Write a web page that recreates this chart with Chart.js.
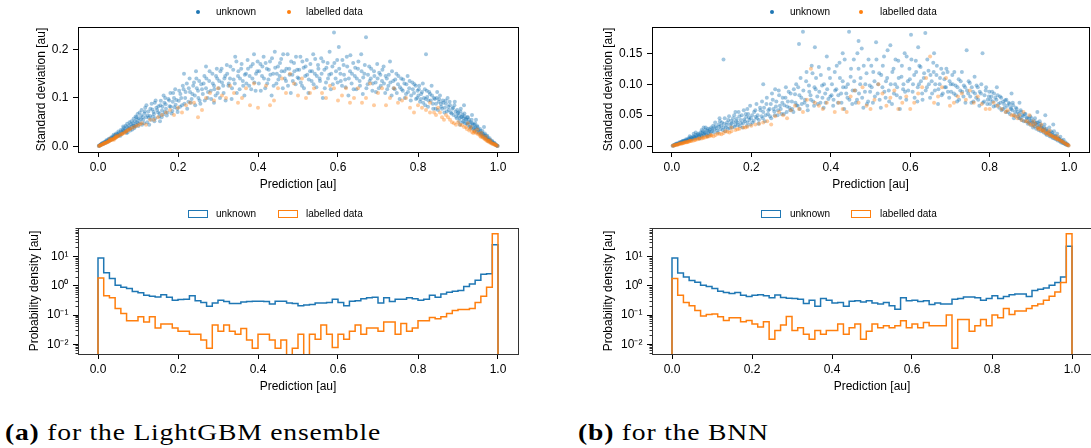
<!DOCTYPE html>
<html>
<head>
<meta charset="utf-8">
<script src="https://cdn.jsdelivr.net/npm/chart.js@4.4.1/dist/chart.umd.min.js"></script>
<style>
  body { margin: 0; width: 1091px; height: 448px; overflow: hidden; position: relative; background: #fff;
         font-family: "Liberation Sans", Arial, sans-serif; color: #000; }
  .panel { position: absolute; }
  .lg { position: absolute; font-size: 10px; line-height: 12px; white-space: nowrap; }
  .dot { position: absolute; width: 4px; height: 4px; border-radius: 50%; }
  .box { position: absolute; width: 18px; height: 6px; border: 1.5px solid; }
  .cap { position: absolute; top: 418px; font-family: "Liberation Serif", "DejaVu Serif", serif; font-size: 24px;
         letter-spacing: 0.7px; line-height: 28px; white-space: nowrap; transform: scaleX(1.15); transform-origin: left top; }
</style>
</head>
<body>

<div class="panel" style="left:0;top:0"><canvas id="lgbmScatter" width="545" height="200"></canvas></div>
<div class="panel" style="left:545px;top:0"><canvas id="bnnScatter" width="548" height="200"></canvas></div>
<div class="panel" style="left:0;top:200px"><canvas id="lgbmHist" width="545" height="200"></canvas></div>
<div class="panel" style="left:545px;top:200px"><canvas id="bnnHist" width="548" height="200"></canvas></div>

<!-- legends -->
<div class="dot" style="left:196px;top:10px;background:#1f77b4"></div>
<div class="lg" style="left:216px;top:6px">unknown</div>
<div class="dot" style="left:287px;top:10px;background:#ff7f0e"></div>
<div class="lg" style="left:306px;top:6px">labelled data</div>

<div class="dot" style="left:770px;top:10px;background:#1f77b4"></div>
<div class="lg" style="left:790px;top:6px">unknown</div>
<div class="dot" style="left:859px;top:10px;background:#ff7f0e"></div>
<div class="lg" style="left:880px;top:6px">labelled data</div>

<div class="box" style="left:188px;top:210px;border-color:#1f77b4"></div>
<div class="lg" style="left:216px;top:208px">unknown</div>
<div class="box" style="left:278px;top:210px;border-color:#ff7f0e"></div>
<div class="lg" style="left:306px;top:208px">labelled data</div>

<div class="box" style="left:761px;top:210px;border-color:#1f77b4"></div>
<div class="lg" style="left:790px;top:208px">unknown</div>
<div class="box" style="left:851px;top:210px;border-color:#ff7f0e"></div>
<div class="lg" style="left:880px;top:208px">labelled data</div>

<div class="cap" style="left:5px"><b>(a)</b> for the LightGBM ensemble</div>
<div class="cap" style="left:578px"><b>(b)</b> for the BNN</div>

<script>
// ---- scatter: [prediction, standard deviation] ----
const lgbmUnknown = [
  [0.002,0.001],[0.004,0.002],[0.006,0.003],[0.008,0.004],[0.01,0.005],[0.012,0.007],[0.014,0.006],[0.016,0.008],
  [0.018,0.01],[0.02,0.009],[0.022,0.012],[0.024,0.011],[0.026,0.014],[0.028,0.013],[0.03,0.016],[0.032,0.015],
  [0.034,0.018],[0.036,0.017],[0.038,0.021],[0.04,0.019],[0.042,0.022],[0.044,0.024],[0.046,0.021],[0.048,0.026],
  [0.05,0.023],[0.052,0.028],[0.055,0.025],[0.058,0.031],[0.06,0.027],[0.062,0.034],[0.065,0.03],[0.068,0.036],
  [0.07,0.032],[0.072,0.04],[0.075,0.035],[0.078,0.042],[0.08,0.037],[0.082,0.046],[0.085,0.04],[0.088,0.048],
  [0.09,0.043],[0.092,0.052],[0.095,0.045],[0.098,0.055],[0.1,0.048],[0.056,0.022],[0.064,0.038],[0.074,0.029],
  [0.086,0.035],[0.096,0.06],[0.091,0.038],
  [0.003,0.002],[0.007,0.004],[0.009,0.006],[0.013,0.005],[0.015,0.009],[0.019,0.008],[0.021,0.013],[0.025,0.01],
  [0.027,0.016],[0.031,0.013],[0.033,0.019],[0.037,0.015],[0.039,0.024],[0.043,0.018],[0.045,0.027],[0.049,0.021],
  [0.051,0.031],[0.054,0.024],[0.057,0.034],[0.061,0.029],[0.063,0.041],[0.066,0.033],[0.069,0.043],[0.071,0.028],
  [0.073,0.047],[0.077,0.038],[0.079,0.05],[0.081,0.033],[0.084,0.052],[0.087,0.044],[0.089,0.057],[0.093,0.041],
  [0.094,0.062],[0.097,0.05],[0.099,0.067],
  [0.102,0.058],[0.105,0.05],[0.108,0.064],[0.11,0.045],[0.113,0.055],[0.116,0.068],[0.12,0.06],[0.123,0.05],
  [0.126,0.072],[0.13,0.063],[0.133,0.055],[0.136,0.076],[0.14,0.067],[0.143,0.058],[0.146,0.08],[0.15,0.07],
  [0.153,0.062],[0.156,0.085],[0.16,0.074],[0.163,0.066],[0.166,0.09],[0.17,0.078],[0.174,0.07],[0.178,0.095],
  [0.182,0.082],[0.186,0.073],[0.19,0.1],[0.194,0.086],[0.198,0.078],[0.118,0.08],[0.142,0.09],[0.168,0.1],
  [0.188,0.11],[0.155,0.052],[0.128,0.045],
  [0.101,0.042],[0.104,0.07],[0.107,0.056],[0.109,0.075],[0.112,0.061],[0.115,0.048],[0.117,0.072],[0.121,0.085],
  [0.124,0.064],[0.127,0.059],[0.131,0.078],[0.134,0.088],[0.137,0.062],[0.139,0.071],[0.141,0.052],[0.144,0.095],
  [0.148,0.075],[0.151,0.083],[0.154,0.068],[0.157,0.094],[0.159,0.06],[0.161,0.082],[0.164,0.105],[0.167,0.071],
  [0.169,0.087],[0.172,0.064],[0.176,0.098],[0.179,0.083],[0.181,0.11],[0.184,0.068],[0.187,0.092],[0.191,0.081],
  [0.193,0.118],[0.196,0.096],[0.199,0.071],
  [0.202,0.094],[0.206,0.108],[0.21,0.085],[0.214,0.118],[0.218,0.1],[0.222,0.13],[0.226,0.092],[0.23,0.112],
  [0.234,0.098],[0.238,0.125],[0.242,0.105],[0.246,0.14],[0.25,0.115],[0.254,0.095],[0.258,0.128],[0.262,0.108],
  [0.266,0.145],[0.27,0.12],[0.274,0.1],[0.278,0.135],[0.282,0.115],[0.286,0.15],[0.29,0.125],[0.294,0.105],
  [0.298,0.14],[0.215,0.15],[0.245,0.155],[0.27,0.165],[0.29,0.09],
  [0.203,0.115],[0.205,0.082],[0.208,0.1],[0.212,0.125],[0.216,0.088],[0.219,0.112],[0.223,0.078],[0.227,0.12],
  [0.229,0.14],[0.232,0.09],[0.236,0.108],[0.24,0.132],[0.243,0.085],[0.247,0.12],[0.251,0.1],[0.253,0.135],
  [0.256,0.088],[0.26,0.118],[0.264,0.13],[0.267,0.095],[0.271,0.14],[0.275,0.112],[0.279,0.155],[0.283,0.098],
  [0.287,0.13],[0.291,0.118],[0.295,0.145],[0.297,0.16],[0.299,0.11],
  [0.302,0.12],[0.306,0.155],[0.31,0.132],[0.314,0.11],[0.318,0.145],[0.322,0.168],[0.326,0.125],[0.33,0.14],
  [0.334,0.098],[0.338,0.158],[0.342,0.13],[0.346,0.175],[0.35,0.145],[0.354,0.118],[0.358,0.16],[0.362,0.135],
  [0.366,0.105],[0.37,0.15],[0.374,0.178],[0.378,0.125],[0.382,0.165],[0.386,0.14],[0.39,0.19],[0.394,0.115],
  [0.398,0.155],
  [0.303,0.135],[0.305,0.1],[0.309,0.16],[0.313,0.125],[0.316,0.14],[0.319,0.095],[0.323,0.15],[0.327,0.13],
  [0.331,0.165],[0.335,0.12],[0.339,0.138],[0.343,0.185],[0.347,0.11],[0.351,0.155],[0.355,0.14],[0.359,0.17],
  [0.363,0.125],[0.367,0.148],[0.371,0.13],[0.375,0.16],[0.379,0.145],[0.383,0.118],[0.387,0.17],[0.391,0.132],
  [0.395,0.15],[0.399,0.175],
  [0.402,0.13],[0.406,0.17],[0.41,0.145],[0.414,0.185],[0.418,0.12],[0.422,0.16],[0.426,0.138],[0.43,0.175],
  [0.434,0.105],[0.438,0.15],[0.442,0.195],[0.446,0.13],[0.45,0.165],[0.454,0.145],[0.458,0.18],[0.462,0.12],
  [0.466,0.155],[0.47,0.135],[0.474,0.19],[0.478,0.16],[0.482,0.11],[0.486,0.148],[0.49,0.172],[0.494,0.128],
  [0.498,0.158],
  [0.403,0.155],[0.407,0.115],[0.411,0.165],[0.415,0.14],[0.419,0.172],[0.423,0.13],[0.427,0.158],[0.431,0.148],
  [0.435,0.182],[0.439,0.125],[0.443,0.162],[0.447,0.15],[0.451,0.138],[0.455,0.172],[0.459,0.155],[0.463,0.19],
  [0.467,0.14],[0.471,0.16],[0.475,0.125],[0.479,0.148],[0.483,0.175],[0.487,0.135],[0.491,0.155],[0.495,0.185],
  [0.499,0.142],
  [0.502,0.14],[0.506,0.185],[0.51,0.125],[0.514,0.162],[0.518,0.145],[0.522,0.178],[0.526,0.11],[0.53,0.155],
  [0.534,0.135],[0.538,0.19],[0.542,0.15],[0.546,0.122],[0.55,0.168],[0.554,0.14],[0.558,0.182],[0.562,0.1],
  [0.566,0.158],[0.57,0.132],[0.574,0.172],[0.578,0.148],[0.582,0.118],[0.586,0.165],[0.59,0.235],[0.594,0.14],
  [0.598,0.178],
  [0.503,0.158],[0.507,0.132],[0.511,0.175],[0.515,0.12],[0.519,0.165],[0.523,0.148],[0.527,0.138],[0.531,0.17],
  [0.535,0.155],[0.539,0.128],[0.543,0.18],[0.547,0.145],[0.551,0.16],[0.555,0.135],[0.559,0.15],[0.563,0.175],
  [0.567,0.12],[0.571,0.162],[0.575,0.14],[0.579,0.195],[0.583,0.15],[0.587,0.128],[0.591,0.172],[0.595,0.155],
  [0.599,0.132],
  [0.602,0.205],[0.606,0.15],[0.61,0.125],[0.614,0.168],[0.618,0.138],[0.622,0.185],[0.626,0.105],[0.63,0.155],
  [0.634,0.13],[0.638,0.172],[0.642,0.145],[0.646,0.118],[0.65,0.16],[0.654,0.135],[0.658,0.19],[0.662,0.108],
  [0.666,0.15],[0.67,0.225],[0.674,0.128],[0.678,0.165],[0.682,0.14],[0.686,0.115],[0.69,0.155],[0.694,0.132],
  [0.698,0.17],
  [0.603,0.16],[0.607,0.135],[0.611,0.178],[0.615,0.148],[0.619,0.122],[0.623,0.165],[0.627,0.14],[0.631,0.188],
  [0.635,0.15],[0.639,0.118],[0.643,0.162],[0.647,0.14],[0.651,0.175],[0.655,0.125],[0.659,0.155],[0.663,0.142],
  [0.667,0.168],[0.671,0.12],[0.675,0.148],[0.679,0.135],[0.683,0.16],[0.687,0.13],[0.691,0.145],[0.695,0.112],
  [0.699,0.14],
  [0.702,0.12],[0.706,0.148],[0.71,0.135],[0.714,0.165],[0.718,0.11],[0.722,0.14],[0.726,0.125],[0.73,0.175],
  [0.734,0.105],[0.738,0.135],[0.742,0.118],[0.746,0.15],[0.75,0.128],[0.754,0.098],[0.758,0.14],[0.762,0.115],
  [0.766,0.13],[0.77,0.108],[0.774,0.145],[0.778,0.12],[0.782,0.095],[0.786,0.132],[0.79,0.11],[0.794,0.125],
  [0.798,0.1],
  [0.703,0.152],[0.707,0.125],[0.711,0.158],[0.715,0.13],[0.719,0.145],[0.723,0.118],[0.727,0.148],[0.731,0.132],
  [0.735,0.155],[0.739,0.12],[0.743,0.138],[0.747,0.11],[0.751,0.145],[0.755,0.122],[0.759,0.118],[0.763,0.138],
  [0.767,0.1],[0.771,0.128],[0.775,0.112],[0.779,0.135],[0.783,0.105],[0.787,0.118],[0.791,0.128],[0.795,0.098],
  [0.799,0.115],
  [0.802,0.118],[0.805,0.092],[0.808,0.108],[0.812,0.13],[0.815,0.1],[0.818,0.085],[0.82,0.19],[0.822,0.115],
  [0.826,0.095],[0.83,0.108],[0.834,0.125],[0.837,0.088],[0.84,0.1],[0.844,0.078],[0.848,0.112],[0.852,0.092],
  [0.855,0.105],[0.858,0.082],[0.862,0.095],[0.866,0.07],[0.87,0.088],[0.874,0.1],[0.877,0.075],[0.88,0.085],
  [0.884,0.068],[0.888,0.08],[0.892,0.092],[0.895,0.062],[0.898,0.075],
  [0.801,0.105],[0.803,0.125],[0.807,0.098],[0.81,0.112],[0.813,0.09],[0.817,0.118],[0.819,0.098],[0.823,0.102],
  [0.825,0.082],[0.828,0.112],[0.832,0.095],[0.835,0.105],[0.838,0.078],[0.842,0.098],[0.845,0.088],[0.847,0.1],
  [0.85,0.075],[0.853,0.098],[0.857,0.088],[0.86,0.078],[0.863,0.09],[0.867,0.08],[0.869,0.095],[0.872,0.072],
  [0.876,0.082],[0.879,0.092],[0.882,0.07],[0.886,0.078],[0.889,0.065],[0.891,0.085],[0.894,0.072],[0.897,0.058],
  [0.899,0.068],
  [0.901,0.07],[0.904,0.058],[0.907,0.078],[0.91,0.062],[0.913,0.052],[0.916,0.068],[0.919,0.056],[0.922,0.048],
  [0.925,0.06],[0.928,0.05],[0.931,0.042],[0.934,0.055],[0.937,0.045],[0.94,0.038],[0.943,0.048],[0.946,0.035],
  [0.949,0.04],[0.952,0.03],[0.955,0.036],[0.958,0.026],[0.961,0.032],[0.964,0.022],[0.967,0.027],[0.97,0.018],
  [0.973,0.022],[0.976,0.014],[0.979,0.017],[0.982,0.01],[0.985,0.012],[0.988,0.007],[0.991,0.008],[0.994,0.004],
  [0.997,0.002],[0.999,0.001],[0.915,0.085],[0.935,0.065],[0.905,0.045],[0.945,0.055],[0.965,0.04],
  [0.902,0.064],[0.903,0.052],[0.906,0.072],[0.908,0.06],[0.911,0.066],[0.912,0.05],[0.914,0.058],[0.917,0.062],
  [0.918,0.048],[0.921,0.055],[0.923,0.06],[0.924,0.045],[0.927,0.055],[0.929,0.04],[0.932,0.05],[0.933,0.038],
  [0.936,0.048],[0.938,0.036],[0.941,0.045],[0.942,0.033],[0.944,0.04],[0.947,0.03],[0.948,0.042],[0.951,0.035],
  [0.953,0.028],[0.956,0.032],[0.957,0.024],[0.96,0.028],[0.962,0.02],[0.963,0.026],[0.966,0.022],[0.968,0.017],
  [0.969,0.023],[0.972,0.016],[0.974,0.019],[0.975,0.012],[0.978,0.014],[0.98,0.011],[0.981,0.013],[0.984,0.008],
  [0.986,0.01],[0.989,0.006],[0.992,0.005],[0.995,0.003],[0.998,0.0015]
];
const lgbmLabelled = [
  [0.002,0.001],[0.005,0.002],[0.008,0.003],[0.011,0.004],[0.014,0.006],[0.017,0.007],[0.02,0.008],[0.023,0.009],
  [0.026,0.011],[0.029,0.012],[0.032,0.013],[0.035,0.014],[0.038,0.016],[0.041,0.017],[0.044,0.018],[0.047,0.02],
  [0.05,0.021],[0.055,0.024],[0.06,0.026],[0.065,0.028],[0.07,0.031],[0.03,0.016],[0.04,0.014],[0.045,0.022],
  [0.075,0.034],[0.08,0.036],[0.09,0.04],[0.1,0.044],[0.11,0.048],[0.12,0.045],[0.13,0.055],[0.15,0.06],
  [0.17,0.07],[0.19,0.065],[0.2,0.08],[0.22,0.085],[0.24,0.09],[0.25,0.06],[0.27,0.1],[0.29,0.095],
  [0.3,0.12],[0.31,0.105],[0.33,0.125],[0.34,0.11],[0.36,0.1],[0.38,0.085],[0.4,0.08],[0.42,0.125],
  [0.44,0.095],[0.46,0.14],[0.48,0.15],[0.5,0.105],[0.52,0.1],[0.54,0.12],[0.56,0.11],[0.6,0.095],
  [0.62,0.12],[0.64,0.1],[0.66,0.09],[0.68,0.13],[0.7,0.11],[0.72,0.085],[0.74,0.12],[0.76,0.095],
  [0.78,0.08],[0.8,0.085],[0.82,0.075],[0.84,0.07],[0.86,0.06],[0.88,0.055],[0.89,0.048],[0.9,0.05],
  [0.91,0.044],[0.92,0.04],[0.93,0.036],[0.935,0.03],[0.94,0.032],[0.945,0.028],[0.95,0.025],[0.955,0.022],
  [0.96,0.02],[0.963,0.018],[0.966,0.016],[0.969,0.014],[0.972,0.012],[0.975,0.011],[0.978,0.009],[0.981,0.008],
  [0.984,0.006],[0.987,0.005],[0.99,0.004],[0.993,0.003],[0.996,0.002],[0.999,0.001],[0.958,0.028],[0.948,0.035],
  [0.97,0.02],[0.98,0.013],[0.925,0.048],[0.87,0.065],[0.85,0.08],[0.83,0.09],[0.58,0.125],[0.47,0.11],
  [0.35,0.09],[0.26,0.075],
  [0.004,0.0015],[0.007,0.003],[0.012,0.005],[0.016,0.006],[0.019,0.008],[0.024,0.01],[0.028,0.011],[0.033,0.014],
  [0.037,0.015],[0.042,0.018],[0.046,0.019],[0.052,0.022],[0.058,0.025],[0.062,0.027],[0.068,0.03],[0.072,0.032],
  [0.078,0.035],[0.085,0.038],[0.095,0.042],[0.105,0.046],
  [0.14,0.055],[0.16,0.065],[0.18,0.075],[0.21,0.07],[0.23,0.09],[0.28,0.11],[0.32,0.1],[0.37,0.12],[0.39,0.13],
  [0.43,0.085],[0.45,0.12],[0.49,0.13],[0.51,0.14],[0.53,0.11],[0.57,0.1],[0.59,0.12],[0.61,0.105],[0.63,0.09],
  [0.65,0.12],[0.67,0.1],[0.69,0.085],[0.71,0.12],[0.73,0.1],[0.75,0.09],[0.77,0.1],[0.79,0.07],[0.81,0.08],
  [0.83,0.07],[0.845,0.065],[0.855,0.07],[0.865,0.055],[0.875,0.06],[0.885,0.05],[0.895,0.045],[0.905,0.045],
  [0.915,0.04],[0.922,0.036],[0.928,0.033],[0.932,0.04],[0.938,0.028],[0.942,0.03],[0.952,0.027],[0.957,0.02],
  [0.962,0.022],[0.968,0.016],[0.973,0.014],[0.977,0.012],[0.983,0.009],[0.988,0.006],[0.992,0.005],[0.995,0.003]
];
const bnnUnknown = [
  [0.002,0.0005],[0.005,0.001],[0.008,0.002],[0.011,0.003],[0.014,0.003],[0.017,0.004],[0.02,0.005],[0.023,0.006],
  [0.026,0.006],[0.029,0.008],[0.032,0.007],[0.035,0.009],[0.038,0.01],[0.041,0.009],[0.044,0.012],[0.047,0.011],
  [0.05,0.013],[0.053,0.012],[0.056,0.015],[0.059,0.013],[0.062,0.016],[0.065,0.018],[0.068,0.015],[0.071,0.019],
  [0.074,0.017],[0.077,0.021],[0.08,0.018],[0.083,0.022],[0.086,0.02],[0.089,0.025],[0.092,0.021],[0.095,0.027],
  [0.098,0.023],[0.06,0.022],[0.075,0.026],[0.085,0.03],[0.07,0.012],[0.09,0.016],
  [0.003,0.001],[0.007,0.002],[0.009,0.003],[0.012,0.004],[0.015,0.004],[0.019,0.006],[0.021,0.005],[0.024,0.007],
  [0.027,0.008],[0.031,0.009],[0.033,0.008],[0.036,0.011],[0.039,0.009],[0.042,0.012],[0.045,0.01],[0.048,0.014],
  [0.051,0.011],[0.054,0.016],[0.057,0.014],[0.061,0.018],[0.063,0.013],[0.066,0.02],[0.069,0.017],[0.072,0.022],
  [0.076,0.016],[0.078,0.024],[0.081,0.02],[0.084,0.026],[0.087,0.018],[0.091,0.028],[0.093,0.024],[0.096,0.019],
  [0.099,0.03],[0.045,0.016],[0.055,0.02],[0.08,0.03],
  [0.102,0.028],[0.106,0.022],[0.11,0.032],[0.114,0.025],[0.118,0.035],[0.122,0.027],[0.126,0.038],[0.13,0.03],
  [0.134,0.024],[0.138,0.034],[0.142,0.042],[0.146,0.029],[0.15,0.036],[0.154,0.045],[0.158,0.031],[0.162,0.04],
  [0.166,0.034],[0.17,0.048],[0.174,0.037],[0.178,0.03],[0.182,0.043],[0.186,0.052],[0.19,0.038],[0.194,0.046],
  [0.198,0.035],[0.13,0.14],[0.12,0.045],[0.16,0.055],[0.19,0.06],
  [0.101,0.024],[0.104,0.033],[0.107,0.027],[0.109,0.038],[0.112,0.029],[0.116,0.022],[0.119,0.031],[0.121,0.04],
  [0.124,0.033],[0.128,0.026],[0.131,0.036],[0.133,0.045],[0.136,0.03],[0.139,0.038],[0.141,0.028],[0.144,0.048],
  [0.147,0.035],[0.149,0.041],[0.152,0.03],[0.155,0.039],[0.157,0.05],[0.16,0.034],[0.163,0.044],[0.165,0.038],
  [0.168,0.055],[0.171,0.032],[0.173,0.042],[0.176,0.05],[0.179,0.037],[0.181,0.058],[0.184,0.04],[0.187,0.047],
  [0.189,0.033],[0.192,0.052],[0.195,0.042],[0.197,0.065],[0.199,0.045],
  [0.202,0.05],[0.206,0.041],[0.21,0.058],[0.214,0.045],[0.218,0.036],[0.222,0.062],[0.226,0.048],[0.23,0.055],
  [0.234,0.04],[0.238,0.068],[0.242,0.052],[0.246,0.06],[0.25,0.045],[0.254,0.075],[0.258,0.056],[0.262,0.064],
  [0.266,0.05],[0.27,0.082],[0.274,0.06],[0.278,0.07],[0.282,0.052],[0.286,0.078],[0.29,0.064],[0.294,0.088],
  [0.298,0.058],[0.23,0.1],[0.26,0.092],
  [0.203,0.038],[0.207,0.055],[0.211,0.047],[0.213,0.068],[0.216,0.05],[0.219,0.042],[0.223,0.058],[0.227,0.072],
  [0.229,0.045],[0.232,0.062],[0.236,0.05],[0.239,0.078],[0.243,0.058],[0.247,0.048],[0.249,0.068],[0.252,0.085],
  [0.256,0.06],[0.259,0.05],[0.263,0.072],[0.267,0.058],[0.269,0.09],[0.272,0.065],[0.276,0.052],[0.279,0.078],
  [0.283,0.066],[0.287,0.095],[0.289,0.055],[0.292,0.072],[0.296,0.062],[0.299,0.085],
  [0.302,0.072],[0.306,0.055],[0.31,0.084],[0.314,0.066],[0.318,0.095],[0.322,0.06],[0.326,0.078],[0.33,0.185],
  [0.334,0.07],[0.338,0.105],[0.342,0.058],[0.346,0.088],[0.35,0.075],[0.354,0.118],[0.358,0.065],[0.362,0.092],
  [0.366,0.08],[0.37,0.128],[0.374,0.07],[0.378,0.098],[0.382,0.062],[0.386,0.085],[0.39,0.145],[0.394,0.076],
  [0.398,0.11],[0.32,0.165],[0.36,0.16],
  [0.303,0.06],[0.307,0.092],[0.311,0.07],[0.313,0.1],[0.317,0.065],[0.321,0.082],[0.324,0.11],[0.327,0.068],
  [0.331,0.09],[0.335,0.075],[0.339,0.12],[0.341,0.065],[0.345,0.098],[0.349,0.082],[0.352,0.13],[0.356,0.072],
  [0.359,0.095],[0.363,0.11],[0.367,0.068],[0.371,0.088],[0.375,0.115],[0.379,0.078],[0.383,0.1],[0.387,0.07],
  [0.391,0.092],[0.395,0.125],[0.399,0.08],
  [0.402,0.082],[0.406,0.065],[0.41,0.12],[0.414,0.092],[0.418,0.07],[0.422,0.135],[0.426,0.085],[0.43,0.105],
  [0.434,0.06],[0.438,0.095],[0.442,0.078],[0.446,0.185],[0.45,0.112],[0.454,0.068],[0.458,0.14],[0.462,0.09],
  [0.466,0.075],[0.47,0.125],[0.474,0.1],[0.478,0.158],[0.482,0.062],[0.486,0.088],[0.49,0.118],[0.494,0.072],
  [0.498,0.098],[0.47,0.17],[0.43,0.15],
  [0.403,0.1],[0.407,0.075],[0.411,0.09],[0.415,0.13],[0.419,0.082],[0.423,0.11],[0.427,0.07],[0.431,0.095],
  [0.435,0.14],[0.439,0.085],[0.443,0.1],[0.447,0.075],[0.451,0.125],[0.455,0.09],[0.459,0.105],[0.463,0.07],
  [0.467,0.15],[0.471,0.085],[0.475,0.11],[0.479,0.078],[0.483,0.13],[0.487,0.1],[0.491,0.068],[0.495,0.14],
  [0.499,0.088],
  [0.502,0.13],[0.506,0.07],[0.51,0.105],[0.514,0.168],[0.518,0.085],[0.522,0.118],[0.526,0.062],[0.53,0.095],
  [0.534,0.145],[0.538,0.078],[0.542,0.11],[0.546,0.09],[0.55,0.163],[0.554,0.068],[0.558,0.125],[0.562,0.1],
  [0.566,0.082],[0.57,0.138],[0.574,0.06],[0.578,0.112],[0.582,0.092],[0.586,0.15],[0.59,0.075],[0.594,0.105],
  [0.598,0.125],
  [0.503,0.095],[0.507,0.12],[0.511,0.08],[0.515,0.14],[0.519,0.1],[0.523,0.075],[0.527,0.115],[0.531,0.13],
  [0.535,0.088],[0.539,0.105],[0.543,0.155],[0.547,0.072],[0.551,0.1],[0.555,0.12],[0.559,0.085],[0.563,0.14],
  [0.567,0.095],[0.571,0.11],[0.575,0.078],[0.579,0.13],[0.583,0.1],[0.587,0.088],[0.591,0.145],[0.595,0.09],
  [0.599,0.108],
  [0.602,0.18],[0.606,0.088],[0.61,0.115],[0.614,0.138],[0.618,0.072],[0.622,0.1],[0.626,0.128],[0.63,0.085],
  [0.634,0.11],[0.638,0.183],[0.642,0.095],[0.646,0.122],[0.65,0.078],[0.654,0.105],[0.658,0.135],[0.662,0.09],
  [0.666,0.115],[0.67,0.068],[0.674,0.1],[0.678,0.125],[0.682,0.085],[0.686,0.108],[0.69,0.095],[0.694,0.12],
  [0.698,0.078],[0.66,0.15],[0.62,0.16],
  [0.603,0.14],[0.607,0.1],[0.611,0.078],[0.615,0.12],[0.619,0.095],[0.623,0.13],[0.627,0.105],[0.631,0.075],
  [0.635,0.118],[0.639,0.09],[0.643,0.14],[0.647,0.1],[0.651,0.115],[0.655,0.085],[0.659,0.12],[0.663,0.1],
  [0.667,0.13],[0.671,0.092],[0.675,0.11],[0.679,0.082],[0.683,0.118],[0.687,0.095],[0.691,0.125],[0.695,0.088],
  [0.699,0.105],
  [0.702,0.1],[0.706,0.115],[0.71,0.085],[0.714,0.098],[0.718,0.072],[0.722,0.108],[0.726,0.09],[0.73,0.12],
  [0.734,0.08],[0.738,0.095],[0.742,0.155],[0.746,0.085],[0.75,0.102],[0.754,0.07],[0.758,0.088],[0.762,0.112],
  [0.766,0.078],[0.77,0.095],[0.774,0.065],[0.778,0.085],[0.782,0.15],[0.786,0.072],[0.79,0.09],[0.794,0.068],
  [0.798,0.08],
  [0.703,0.088],[0.707,0.1],[0.711,0.12],[0.715,0.082],[0.719,0.095],[0.723,0.075],[0.727,0.105],[0.731,0.088],
  [0.735,0.098],[0.739,0.07],[0.743,0.09],[0.747,0.105],[0.751,0.08],[0.755,0.095],[0.759,0.072],[0.763,0.085],
  [0.767,0.098],[0.771,0.075],[0.775,0.088],[0.779,0.1],[0.783,0.07],[0.787,0.082],[0.791,0.095],[0.795,0.075],
  [0.799,0.088],
  [0.802,0.075],[0.806,0.088],[0.81,0.064],[0.814,0.078],[0.818,0.095],[0.822,0.068],[0.826,0.08],[0.83,0.058],
  [0.834,0.072],[0.838,0.062],[0.842,0.075],[0.846,0.055],[0.85,0.068],[0.854,0.06],[0.858,0.07],[0.862,0.05],
  [0.866,0.062],[0.87,0.055],[0.874,0.045],[0.878,0.058],[0.882,0.05],[0.886,0.04],[0.89,0.052],[0.894,0.045],
  [0.898,0.038],[0.855,0.085],[0.875,0.07],
  [0.801,0.068],[0.804,0.08],[0.808,0.072],[0.811,0.085],[0.815,0.065],[0.817,0.075],[0.82,0.082],[0.824,0.062],
  [0.827,0.07],[0.829,0.078],[0.833,0.06],[0.836,0.068],[0.839,0.074],[0.841,0.055],[0.844,0.065],[0.848,0.07],
  [0.851,0.052],[0.853,0.062],[0.857,0.058],[0.859,0.066],[0.861,0.045],[0.864,0.055],[0.868,0.06],[0.871,0.048],
  [0.873,0.052],[0.877,0.045],[0.879,0.055],[0.881,0.042],[0.884,0.048],[0.888,0.052],[0.891,0.04],[0.893,0.046],
  [0.896,0.036],[0.899,0.044],
  [0.902,0.048],[0.906,0.04],[0.91,0.035],[0.914,0.045],[0.918,0.038],[0.922,0.03],[0.926,0.04],[0.93,0.033],
  [0.934,0.026],[0.938,0.035],[0.942,0.028],[0.946,0.022],[0.95,0.03],[0.954,0.024],[0.958,0.018],[0.962,0.024],
  [0.966,0.016],[0.97,0.02],[0.974,0.012],[0.978,0.015],[0.982,0.009],[0.986,0.01],[0.99,0.006],[0.994,0.004],
  [0.998,0.001],[0.94,0.05],[0.92,0.055],[0.96,0.035],
  [0.901,0.04],[0.903,0.034],[0.905,0.045],[0.908,0.038],[0.909,0.03],[0.912,0.04],[0.913,0.032],[0.916,0.036],
  [0.917,0.028],[0.919,0.034],[0.921,0.038],[0.923,0.026],[0.925,0.032],[0.927,0.036],[0.929,0.024],[0.931,0.03],
  [0.933,0.028],[0.936,0.022],[0.937,0.03],[0.939,0.026],[0.941,0.02],[0.943,0.025],[0.944,0.018],[0.947,0.024],
  [0.949,0.02],[0.951,0.016],[0.953,0.02],[0.955,0.015],[0.957,0.022],[0.959,0.013],[0.961,0.018],[0.963,0.012],
  [0.964,0.016],[0.967,0.011],[0.969,0.014],[0.971,0.009],[0.973,0.012],[0.976,0.008],[0.977,0.01],[0.979,0.006],
  [0.981,0.008],[0.983,0.005],[0.985,0.006],[0.987,0.004],[0.989,0.004],[0.991,0.003],[0.993,0.002],[0.996,0.002]
];
const bnnLabelled = [
  [0.002,0.0005],[0.006,0.001],[0.01,0.002],[0.014,0.002],[0.018,0.003],[0.022,0.004],[0.026,0.004],[0.03,0.005],
  [0.034,0.006],[0.038,0.006],[0.042,0.007],[0.046,0.008],[0.05,0.008],[0.055,0.009],[0.06,0.01],[0.065,0.011],
  [0.07,0.012],[0.075,0.012],[0.08,0.013],[0.085,0.014],[0.09,0.015],[0.095,0.016],[0.1,0.017],[0.11,0.018],
  [0.12,0.02],[0.13,0.021],[0.14,0.023],[0.15,0.024],[0.16,0.026],[0.17,0.028],[0.18,0.03],[0.19,0.031],
  [0.2,0.033],[0.22,0.036],[0.24,0.04],[0.26,0.048],[0.28,0.05],[0.3,0.058],[0.32,0.06],[0.34,0.075],
  [0.35,0.125],[0.37,0.065],[0.39,0.07],[0.41,0.055],[0.43,0.06],[0.45,0.08],[0.47,0.07],[0.5,0.06],
  [0.52,0.1],[0.54,0.065],[0.56,0.09],[0.58,0.07],[0.6,0.06],[0.62,0.085],[0.64,0.11],[0.65,0.145],
  [0.66,0.07],[0.68,0.095],[0.7,0.065],[0.72,0.08],[0.74,0.075],[0.76,0.07],[0.78,0.068],[0.8,0.06],
  [0.82,0.065],[0.84,0.055],[0.86,0.05],[0.87,0.045],[0.88,0.042],[0.89,0.04],[0.9,0.036],[0.91,0.033],
  [0.92,0.03],[0.925,0.027],[0.93,0.026],[0.935,0.024],[0.94,0.022],[0.945,0.02],[0.95,0.018],[0.955,0.017],
  [0.96,0.015],[0.965,0.013],[0.97,0.011],[0.975,0.01],[0.98,0.008],[0.985,0.006],[0.99,0.004],[0.995,0.002],
  [0.999,0.001],[0.93,0.035],[0.95,0.025],[0.97,0.016],[0.91,0.04],[0.9,0.05],[0.885,0.055],[0.75,0.09],
  [0.55,0.078],[0.48,0.095],[0.25,0.035],[0.15,0.03],
  [0.004,0.001],[0.008,0.0015],[0.012,0.002],[0.016,0.003],[0.02,0.004],[0.024,0.004],[0.028,0.005],[0.032,0.006],
  [0.036,0.006],[0.04,0.007],[0.044,0.008],[0.048,0.009],[0.058,0.01],[0.068,0.012],[0.078,0.014],[0.088,0.016],
  [0.098,0.018],[0.105,0.016],[0.115,0.02],[0.125,0.019],[0.135,0.024],[0.145,0.022],[0.165,0.027],[0.185,0.03],
  [0.21,0.035],[0.23,0.038],[0.27,0.055],[0.29,0.045],[0.31,0.065],[0.33,0.055],[0.36,0.07],[0.38,0.06],
  [0.42,0.07],[0.44,0.055],[0.46,0.09],[0.49,0.065],[0.51,0.075],[0.53,0.085],[0.57,0.06],[0.59,0.08],
  [0.61,0.07],[0.63,0.095],[0.67,0.08],[0.69,0.11],[0.71,0.07],[0.73,0.085],[0.77,0.08],[0.79,0.06],
  [0.81,0.07],[0.83,0.06],[0.845,0.058],[0.855,0.05],[0.865,0.048],[0.875,0.05],[0.895,0.04],[0.905,0.035],
  [0.915,0.036],[0.922,0.028],[0.928,0.03],[0.933,0.025],[0.938,0.027],[0.943,0.021],[0.948,0.022],[0.953,0.018],
  [0.958,0.016],[0.963,0.014],[0.968,0.012],[0.973,0.011],[0.978,0.009],[0.983,0.007],[0.988,0.005],[0.993,0.003],
  [0.997,0.0015]
];

// ---- histograms: probability density per bin, 70 bins over [0, 1] ----
const nBins = 70;
const lgbmUnknownHist = [
  9, 2.8, 1.78, 1.05, 0.9, 0.81, 0.64, 0.58, 0.48, 0.44, 0.42, 0.5, 0.41, 0.32, 0.34, 0.35, 0.46,
  0.31, 0.27, 0.2, 0.26, 0.32, 0.29, 0.25, 0.25, 0.28, 0.29, 0.3, 0.3, 0.29, 0.24, 0.3, 0.3, 0.26,
  0.25, 0.21, 0.22, 0.23, 0.26, 0.26, 0.27, 0.35, 0.27, 0.21, 0.3, 0.31, 0.36, 0.39, 0.41, 0.26,
  0.39, 0.29, 0.35, 0.35, 0.39, 0.36, 0.32, 0.35, 0.48, 0.41, 0.53, 0.61, 0.66, 0.69, 0.95, 1.17,
  1.56, 2.5, 2.6, 25.7
];
const lgbmLabelledHist = [
  1.87, 0.46, 0.39, 0.17, 0.114, 0.064, 0.064, 0.088, 0.058, 0.088, 0.036, 0.05, 0.05, 0.036, 0.028,
  0.028, 0.022, 0.022, 0.014, 0.0073, 0.046, 0.028, 0.046, 0.028, 0.022, 0.035, 0.014, 0.0073, 0.022,
  0.022, 0.014, 0.0073, 0.014, 0,
  0.0073, 0.022, 0, 0.022, 0.015, 0.046, 0.022, 0.0078, 0.022, 0.015, 0.028, 0.046, 0.022, 0.036,
  0.036, 0.028, 0.058, 0.058, 0.022, 0.052, 0.028, 0.036, 0.064, 0.064, 0.083, 0.075, 0.088, 0.114,
  0.145, 0.156, 0.156, 0.17, 0.27, 0.44, 0.9, 61
];
const bnnUnknownHist = [
  9.0, 2.77, 2.03, 1.52, 1.33, 1.05, 0.95, 0.81, 0.66, 0.59, 0.55, 0.59, 0.48, 0.43, 0.48, 0.5, 0.46,
  0.39, 0.49, 0.4, 0.38, 0.37, 0.35, 0.25, 0.32, 0.2, 0.37, 0.32, 0.26, 0.27, 0.2, 0.3, 0.31, 0.28,
  0.31, 0.26, 0.24, 0.27, 0.21, 0.16, 0.39, 0.31, 0.32, 0.29, 0.31, 0.23, 0.26, 0.24, 0.24, 0.35,
  0.37, 0.42, 0.42, 0.39, 0.32, 0.37, 0.46, 0.37, 0.43, 0.5, 0.53, 0.53, 0.43, 0.69, 0.77, 0.85,
  1.05, 1.3, 2.03, 23
];
const bnnLabelledHist = [
  1.78, 0.48, 0.27, 0.21, 0.145, 0.093, 0.106, 0.11, 0.088, 0.066, 0.081, 0.081, 0.059, 0.066, 0.05,
  0.039, 0.059, 0.015, 0.03, 0.046, 0.09, 0.03, 0.037, 0.022, 0.015, 0.03, 0.022, 0.03, 0.03, 0.05,
  0.022, 0.037, 0.05, 0.015,
  0.028, 0.05, 0.037, 0.043, 0.037, 0.043, 0.064, 0.037, 0.05, 0.037, 0.056, 0.043, 0.043, 0.043,
  0.1, 0.0073, 0.071, 0.071, 0.028, 0.043, 0.071, 0.043, 0.1, 0.081, 0.17, 0.106, 0.137, 0.137,
  0.17, 0.21, 0.24, 0.32, 0.44, 0.62, 1.3, 61
];

// ---- tick labels ----
const xTicks = [0, 0.2, 0.4, 0.6, 0.8, 1.0];
const lgbmStdTicks = [0, 0.1, 0.2];
const bnnStdTicks = [0, 0.05, 0.10, 0.15];
const densityTicks = [0.01, 0.1, 1, 10];
const densityLabels = ['10\u207B\u00B2', '10\u207B\u00B9', '10\u2070', '10\u00B9'];

const BLUE = '#1f77b4', ORANGE = '#ff7f0e';

Chart.defaults.font.family = '"Liberation Sans", Arial, sans-serif';
Chart.defaults.font.size = 12;
Chart.defaults.color = '#000';

const framePlugin = {
  id: 'frame',
  afterDatasetsDraw(chart, args, opts) {
    const { ctx, chartArea: a } = chart;
    ctx.save();
    ctx.strokeStyle = opts.color || '#000';
    ctx.lineWidth = opts.width || 1;
    const l = Math.round(a.left) + 0.5, t = Math.round(a.top) + 0.5;
    ctx.strokeRect(l, t, Math.round(a.right) - Math.round(a.left), Math.round(a.bottom) - Math.round(a.top));
    ctx.restore();
  }
};

function xAxis() {
  return {
    type: 'linear', min: -0.05, max: 1.05,
    afterBuildTicks: s => { s.ticks = xTicks.map(v => ({ value: v })); },
    afterFit: s => { s.height = 40; },
    ticks: { callback: v => v.toFixed(1), padding: 3, maxRotation: 0, autoSkip: false },
    grid: { drawOnChartArea: false, tickLength: 5, tickColor: '#000', tickWidth: 1 },
    border: { display: false },
    title: { display: true, text: 'Prediction [au]', padding: { top: 0, bottom: 0 } }
  };
}

function scatterChart(id, unknown, labelled, yMin, yMax, yTicks, digits, yWidth, padRight, titlePad) {
  new Chart(document.getElementById(id), {
    type: 'scatter',
    data: {
      datasets: [
        { label: 'unknown', data: unknown.map(p => ({ x: p[0], y: p[1] })), order: 2,
          backgroundColor: 'rgba(31,119,180,0.42)', pointRadius: 2, pointBorderWidth: 0 },
        { label: 'labelled data', data: labelled.map(p => ({ x: p[0], y: p[1] })), order: 1,
          backgroundColor: 'rgba(255,127,14,0.4)', pointRadius: 2, pointBorderWidth: 0 }
      ]
    },
    options: {
      responsive: false, animation: false, devicePixelRatio: 1,
      layout: { padding: { left: 0, right: padRight, top: 27, bottom: 8 } },
      plugins: { legend: { display: false }, tooltip: { enabled: false }, frame: { color: '#000', width: 1 } },
      scales: {
        x: xAxis(),
        y: {
          type: 'linear', min: yMin, max: yMax,
          afterBuildTicks: s => { s.ticks = yTicks.map(v => ({ value: v })); },
          afterFit: s => { s.width = yWidth; },
          ticks: { callback: v => v.toFixed(digits), padding: 4.6, autoSkip: false },
          grid: { drawOnChartArea: false, tickLength: 5, tickColor: '#000', tickWidth: 1 },
          border: { display: false },
          title: { display: true, text: 'Standard deviation [au]', padding: { top: titlePad, bottom: 0 } }
        }
      }
    },
    plugins: [framePlugin]
  });
}

function histLine(values) {
  const pts = [{ x: 0, y: 1e-4 }];
  values.forEach((v, i) => pts.push({ x: i / nBins, y: v > 0 ? v : 1e-4 }));
  pts.push({ x: 1, y: 1e-4 });
  return pts;
}

function histChart(id, unknown, labelled, yWidth, padRight, titlePad) {
  const minorTicks = [];
  for (let e = -3; e <= 1; e++) for (let m = 2; m <= 9; m++) {
    const v = m * Math.pow(10, e);
    if (v > 0.00466 && v < 96.2) minorTicks.push(v);
  }
  new Chart(document.getElementById(id), {
    type: 'line',
    data: {
      datasets: [
        { label: 'unknown', data: histLine(unknown), order: 2, borderColor: BLUE, borderWidth: 1.5,
          stepped: 'before', pointRadius: 0, fill: false },
        { label: 'labelled data', data: histLine(labelled), order: 1, borderColor: ORANGE, borderWidth: 1.5,
          stepped: 'before', pointRadius: 0, fill: false }
      ]
    },
    options: {
      responsive: false, animation: false, devicePixelRatio: 1,
      layout: { padding: { left: 0, right: padRight, top: 28, bottom: 6 } },
      plugins: { legend: { display: false }, tooltip: { enabled: false }, frame: { color: '#333', width: 1 } },
      scales: {
        x: xAxis(),
        y: {
          type: 'logarithmic', min: 0.00466, max: 96.2, position: 'left', weight: 1,
          afterBuildTicks: s => { s.ticks = densityTicks.map(v => ({ value: v })); },
          afterFit: s => { s.width = yWidth; },
          ticks: { callback: (v, i) => densityLabels[i], padding: 4.6, autoSkip: false },
          grid: { drawOnChartArea: false, tickLength: 5, tickColor: '#000', tickWidth: 1 },
          border: { display: false },
          title: { display: true, text: 'Probability density [au]', padding: { top: titlePad, bottom: 0 } }
        },
        yMinor: {
          type: 'logarithmic', min: 0.00466, max: 96.2, position: 'left', weight: 0,
          afterBuildTicks: s => { s.ticks = minorTicks.map(v => ({ value: v })); },
          afterFit: s => { s.width = 0; },
          ticks: { display: false },
          grid: { drawOnChartArea: false, tickLength: 2.5, tickColor: '#000', tickWidth: 0.8 },
          border: { display: false }
        }
      }
    },
    plugins: [framePlugin]
  });
}

scatterChart('lgbmScatter', lgbmUnknown, lgbmLabelled, -0.0113, 0.2461, lgbmStdTicks, 1, 78, 27, 34.6);
scatterChart('bnnScatter', bnnUnknown, bnnLabelled, -0.0097, 0.1927, bnnStdTicks, 2, 107, 1, 56.8);
histChart('lgbmHist', lgbmUnknownHist, lgbmLabelledHist, 78, 27, 27.7);
histChart('bnnHist', bnnUnknownHist, bnnLabelledHist, 107, 1, 56.3);
</script>
</body>
</html>
